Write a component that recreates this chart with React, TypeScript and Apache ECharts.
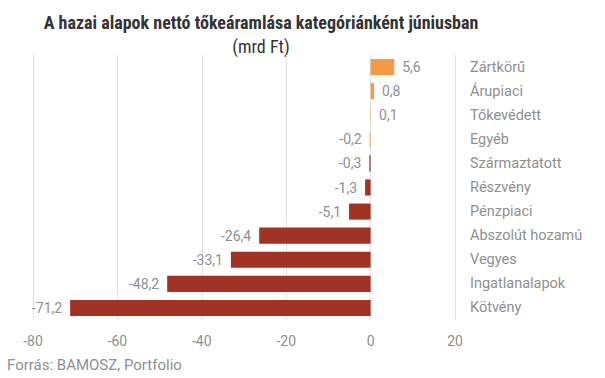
import React, { useEffect, useRef } from "react";
import * as echarts from "echarts";

const categories = [
  "Zártkörű",
  "Árupiaci",
  "Tőkevédett",
  "Egyéb",
  "Származtatott",
  "Részvény",
  "Pénzpiaci",
  "Abszolút hozamú",
  "Vegyes",
  "Ingatlanalapok",
  "Kötvény",
];
const values = [5.6, 0.8, 0.1, -0.2, -0.3, -1.3, -5.1, -26.4, -33.1, -48.2, -71.2];
const barColors = [
  "#f59a45", "#f59a45", "#f59a45", "#f59a45",
  "#a23224", "#a23224", "#a23224", "#a23224", "#a23224", "#a23224", "#a23224",
];
const xTicks = { min: -80, max: 20, interval: 20 };
const titleText = "A hazai alapok nettó tőkeáramlása kategóriánként júniusban";
const subtitleText = "(mrd Ft)";
const sourceText = "Forrás: BAMOSZ, Portfolio";

const FONT = "Roboto, 'Noto Sans', sans-serif";

export default function App() {
  const ref = useRef<HTMLDivElement>(null);
  useEffect(() => {
    if (!ref.current) return;
    const chart = echarts.init(ref.current, null, { renderer: "svg" });
    const fmt = (v: number) => String(v).replace(".", ",");
    chart.setOption({
      animation: false,
      backgroundColor: "#ffffff",
      textStyle: { fontFamily: FONT },
      grid: { left: 33, right: 150, top: 55, bottom: 58, containLabel: false, outerBoundsMode: "none" },
      xAxis: {
        type: "value",
        min: xTicks.min,
        max: xTicks.max,
        interval: xTicks.interval,
        axisLine: { show: false },
        axisTick: { show: false },
        splitLine: { lineStyle: { color: "#e3e3e3", width: 1 } },
        axisLabel: { color: "#8f8f8f", fontSize: 14, margin: 14, fontFamily: FONT },
      },
      yAxis: {
        type: "category",
        data: categories,
        inverse: true,
        position: "right",
        axisLine: { show: false },
        axisTick: { show: false },
        axisLabel: { color: "#8f8f8f", fontSize: 14.5, margin: 15, align: "left", fontFamily: FONT },
      },
      series: [
        {
          type: "bar",
          barCategoryGap: "33%",
          data: values.map((v, i) => ({
            value: v,
            itemStyle: { color: barColors[i] },
            label: {
              show: true,
              position: v >= 0 ? "right" : "left",
              distance: 8,
              color: "#8f8f8f",
              fontSize: 14,
              fontFamily: FONT,
              formatter: () => fmt(v),
            },
          })),
        },
      ],
      graphic: [
        {
          type: "text",
          x: 261,
          y: 22,
          style: {
            text: titleText,
            textAlign: "center",
            textVerticalAlign: "middle",
            fontFamily: "'Roboto Condensed', 'Liberation Sans Narrow', 'DejaVu Sans Condensed', Roboto, sans-serif",
            fontWeight: "bold",
            fontSize: 18,
            fill: "#333333",
          },
        },
        {
          type: "text",
          x: 261,
          y: 46,
          style: {
            text: subtitleText,
            textAlign: "center",
            textVerticalAlign: "middle",
            fontFamily: "'Roboto Condensed', Roboto, sans-serif",
            fontSize: 18,
            fill: "#333333",
          },
        },
        {
          type: "text",
          x: 7,
          y: 365,
          style: {
            text: sourceText,
            textAlign: "left",
            textVerticalAlign: "middle",
            fontFamily: FONT,
            fontSize: 15,
            fill: "#8f8f8f",
          },
        },
      ],
    });
    return () => chart.dispose();
  }, []);
  return (
    <div
      ref={ref}
      style={{ position: "fixed", left: 0, top: 0, width: 605, height: 378 }}
    />
  );
}
